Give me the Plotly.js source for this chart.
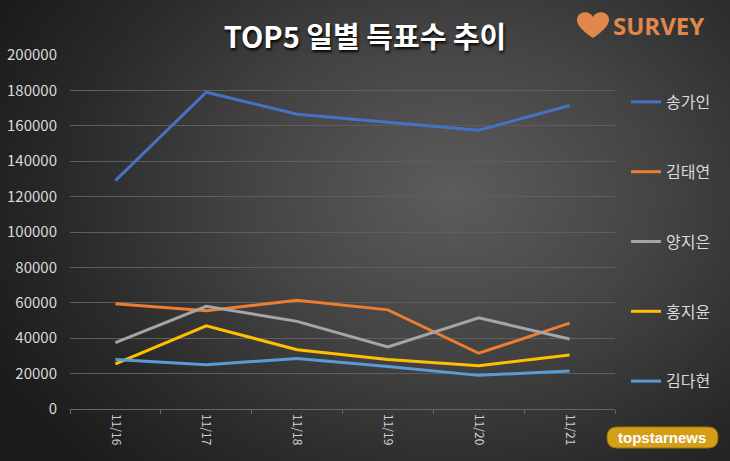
<!DOCTYPE html>
<html>
<head>
<meta charset="utf-8">
<script src="https://cdn.plot.ly/plotly-3.0.1.min.js"></script>
<style>
html,body{margin:0;padding:0;}
body{width:730px;height:461px;overflow:hidden;
background: radial-gradient(ellipse 70% 85% at 62% 42%, #5c5c5c 0%, #444 40%, #2a2a2a 75%, #1b1b1b 100%);}
#chart{width:730px;height:461px;}
</style>
</head>
<body>
<div id="chart"></div>
<script>
const dates = ["11/16","11/17","11/18","11/19","11/20","11/21"];
const seriesNames = ["송가인","김태연","양지은","홍지윤","김다현"];
const songGain   = [129000,179000,166500,162000,157500,171500];
const kimTaeyeon = [59500,55500,61500,56000,31500,48500];
const yangJieun  = [37500,58000,49500,35000,51500,39500];
const hongJiyun  = [25500,47000,33500,28000,24500,30500];
const kimDahyun  = [28000,25000,28500,24000,19000,21500];
const colors = ["#4472C4","#ED7D31","#A5A5A5","#FFC000","#5B9BD5"];
const allValues = [songGain,kimTaeyeon,yangJieun,hongJiyun,kimDahyun];

const FONT = "'Noto Sans CJK KR', 'Noto Sans', sans-serif";

const traces = allValues.map((v,i)=>({
  type:"scatter", mode:"lines", x:dates, y:v, name:seriesNames[i],
  legendgroup:"g"+i,
  line:{color:colors[i], width:3}
}));

// pixel -> paper helpers (plot area: x 70..615, y 55..409)
const L=70, R=615, T=55, B=409;
const px = x => (x-L)/(R-L);
const py = y => (B-y)/(B-T);

const heart = `M${px(593)},${py(38)} C${px(578)},${py(28)} ${px(575)},${py(21)} ${px(578)},${py(16)} C${px(581)},${py(11)} ${px(590)},${py(11)} ${px(593)},${py(17)} C${px(596)},${py(11)} ${px(605)},${py(11)} ${px(608)},${py(16)} C${px(611)},${py(21)} ${px(608)},${py(28)} ${px(593)},${py(38)} Z`;

function pill(x0,y0,x1,y1,r){
  return `M${px(x0+r)},${py(y0)} L${px(x1-r)},${py(y0)} Q${px(x1)},${py(y0)} ${px(x1)},${py(y0+r)} L${px(x1)},${py(y1-r)} Q${px(x1)},${py(y1)} ${px(x1-r)},${py(y1)} L${px(x0+r)},${py(y1)} Q${px(x0)},${py(y1)} ${px(x0)},${py(y1-r)} L${px(x0)},${py(y0+r)} Q${px(x0)},${py(y0)} ${px(x0+r)},${py(y0)} Z`;
}

const layout = {
  width:730, height:461,
  margin:{l:L, r:730-R, t:T, b:461-B},
  paper_bgcolor:"rgba(0,0,0,0)",
  plot_bgcolor:"rgba(0,0,0,0)",
  title:{text:"<b>TOP5 일별 득표수 추이</b>", x:0.5, xanchor:"center", y:1-38/461, yanchor:"middle",
    font:{family:FONT, size:29, color:"#ffffff", shadow:"1px 2px 3px #000"}},
  xaxis:{type:"category", showgrid:false, zeroline:false, showline:false,
    tickangle:90, tickfont:{family:FONT, size:12, color:"#d0d0d0"},
    ticks:"outside", tickson:"boundaries", ticklen:4, tickcolor:"#666",
    ticklabelstandoff:4, range:[-0.5,5.5]},
  yaxis:{range:[0,200000], dtick:20000, tickformat:"d", showgrid:true, gridcolor:"#5e5e5e", gridwidth:1,
    zeroline:true, zerolinecolor:"#666", showline:false,
    tickfont:{family:FONT, size:15, color:"#d9d9d9"}, ticklabelstandoff:12},
  showlegend:true,
  legend:{x:px(626), xanchor:"left", y:py(85), yanchor:"top",
    traceorder:"grouped", tracegroupgap:46,
    font:{family:FONT, size:16, color:"#d9d9d9"}, bgcolor:"rgba(0,0,0,0)", itemwidth:30},
  shapes:[
    {type:"path", xref:"paper", yref:"paper", path:heart, fillcolor:"#E0874C", line:{width:0}},
    {type:"path", xref:"paper", yref:"paper", path:pill(607,427,718,448,10), fillcolor:"#D49E17", line:{color:"#9c7410", width:1}}
  ],
  annotations:[
    {xref:"paper", yref:"paper", x:px(611), y:py(26), xanchor:"left", yanchor:"middle", showarrow:false,
     text:"<b>SURVEY</b>", font:{family:"'Open Sans', 'Noto Sans', sans-serif", size:24, color:"#E0874C"}},
    {xref:"paper", yref:"paper", x:px(662), y:py(437.5), xanchor:"center", yanchor:"middle", showarrow:false,
     text:"<b>topstarnews</b>", font:{family:"'Liberation Sans', Arial, sans-serif", size:15, color:"#ffffff"}}
  ]
};

Plotly.newPlot("chart", traces, layout, {displayModeBar:false, staticPlot:true});
</script>
</body>
</html>
